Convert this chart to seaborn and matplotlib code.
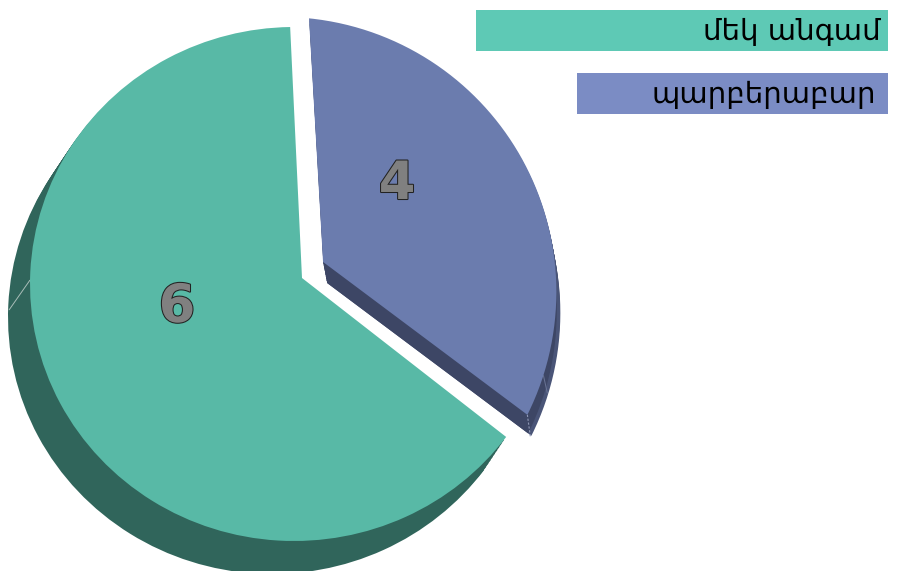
import numpy as np
import matplotlib
matplotlib.use("Agg")
import matplotlib.pyplot as plt
import matplotlib.patheffects as pe
from matplotlib.patches import Rectangle
from matplotlib.path import Path
from matplotlib.transforms import Transform
import seaborn as sns

# Chart data
categories = ["մեկ անգամ", "պարբերաբար"]
values = [6, 4]

top_colors = ["#58b9a6", "#6b7cae"]
rim_colors = ["#30655b", "#4a5578"]
face_color = "#3d4665"
legend_colors = ["#5ec9b5", "#7b8cc4"]

RADIUS = 253
START = 99.4
# how each flat slice is bent to look like the tilted 3D pie:
# bisector before/after, angle scale, rim ellipse (centre from the tip, radii), tip nudge
TILT = [
    dict(bis=207.4, bis2=207.4, scale=1.062, rim=(-8, -6, 264, 257), nudge=(0, 0)),
    dict(bis=27.4, bis2=28.25, scale=0.9035, rim=(-41.7, -30, 275, 275), nudge=(-2.4, 3.9)),
]


class PieTilt(Transform):
    """Bends one flat pie wedge: fans its angles and moves its arc onto an ellipse."""
    input_dims = 2
    output_dims = 2

    def __init__(self, center, bis, bis2, scale, rim, nudge):
        super().__init__()
        self.center = np.asarray(center, dtype=float)
        self.bis, self.bis2, self.scale = bis, bis2, scale
        self.rim = rim
        self.nudge = np.asarray(nudge, dtype=float)

    def transform_non_affine(self, xy):
        d = np.asarray(xy) - self.center
        r = np.hypot(d[:, 0], d[:, 1]) / RADIUS
        deg = np.degrees(np.arctan2(d[:, 1], d[:, 0]))
        deg = self.bis2 + self.scale * ((deg - self.bis + 180) % 360 - 180)
        c, s = np.cos(np.radians(deg)), np.sin(np.radians(deg))
        # where the ray from the tip meets the rim ellipse
        ex, ey, rx, ry = self.rim
        qa = (c / rx) ** 2 + (s / ry) ** 2
        qb = -2 * (c * ex / rx ** 2 + s * ey / ry ** 2)
        qc = (ex / rx) ** 2 + (ey / ry) ** 2 - 1
        dist = (-qb + np.sqrt(qb ** 2 - 4 * qa * qc)) / (2 * qa)
        return self.center + self.nudge + np.column_stack([r * dist * c, r * dist * s])

    def transform_path_non_affine(self, path):
        # flatten the curves first so the bend stays smooth
        return Path(self.transform_non_affine(path.to_polygons()[0]), closed=True)


def draw_pie(ax, center, colors, zorder, radius=RADIUS):
    wedges, _ = ax.pie(values, colors=colors, startangle=START, center=center, radius=radius,
                       explode=[0, 26.4], wedgeprops={"linewidth": 0})
    for w, tilt in zip(wedges, TILT):
        w.set_zorder(zorder)
        w.set_transform(PieTilt(w.center, **tilt) + ax.transData)
    return wedges


def draw_seam(ax, wedge, tilt, angle, offset, **style):
    """Thin light line down the side wall at a given pie angle."""
    tr = PieTilt(wedge.center, **tilt)
    a = np.radians(angle)
    rim = np.array(wedge.center) + RADIUS * np.array([np.cos(a), np.sin(a)])
    p = tr.transform_non_affine(rim[None, :])[0]
    ax.plot([p[0], p[0] + offset[0]], [p[1], p[1] + offset[1]], zorder=2.5, solid_capstyle="butt", **style)


def main():
    sns.set_theme(style="white")
    fig = plt.figure(figsize=(9.03, 5.71), dpi=100)
    ax = fig.add_axes([0, 0, 1, 1])

    cx, cy = 302, 293

    # side walls, swept from the bottom up to the top face
    for t in np.linspace(1, 0.1, 10):
        draw_pie(ax, (cx - 22 * t, cy - 33 * t), [rim_colors[0], "none"], 1)
        draw_pie(ax, (cx + 4 * t, cy - 21 * t), ["none", rim_colors[1]], 1)
    for t in np.linspace(1, 0.1, 10):
        draw_pie(ax, (cx + 4 * t, cy - 21 * t), ["none", face_color], 2, radius=RADIUS - 4)

    wedges = draw_pie(ax, (cx, cy), top_colors, 3)

    draw_seam(ax, wedges[0], TILT[0], 182, (-21, -30), color="#a9bdb8", linewidth=0.7)
    draw_seam(ax, wedges[1], TILT[1], 315.4, (3, -22), color="#8f98b5", linewidth=0.8, linestyle=(0, (2, 1.5)))
    draw_seam(ax, wedges[1], TILT[1], -34, (4, -18), color="#6a7596", linewidth=0.7)

    # value labels on the slices
    outline = [pe.Stroke(linewidth=1.5, foreground="#222222"), pe.Normal()]
    ax.text(177, 264, str(values[0]), color="#808080", fontsize=38, fontweight="bold", family="DejaVu Sans",
            ha="center", va="center", zorder=5, path_effects=outline)
    ax.text(397, 387, str(values[1]), color="#808080", fontsize=38, fontweight="bold", family="DejaVu Sans",
            ha="center", va="center", zorder=5, path_effects=outline)

    # legend boxes, text right aligned
    boxes = [(476, 520, 412, 41, 881), (577, 457, 311, 41, 876)]
    for (x, y, w, h, tx), name, color in zip(boxes, categories, legend_colors):
        ax.add_patch(Rectangle((x, y), w, h, facecolor=color, linewidth=0, zorder=4))
        ax.text(tx, y + h / 2 - 1, name, color="black", fontsize=21, family="DejaVu Sans",
                ha="right", va="center", zorder=5)

    ax.set_xlim(0, 903)
    ax.set_ylim(0, 571)
    ax.axis("off")
    fig.savefig("out.png", dpi=100, facecolor="white")


if __name__ == "__main__":
    main()
